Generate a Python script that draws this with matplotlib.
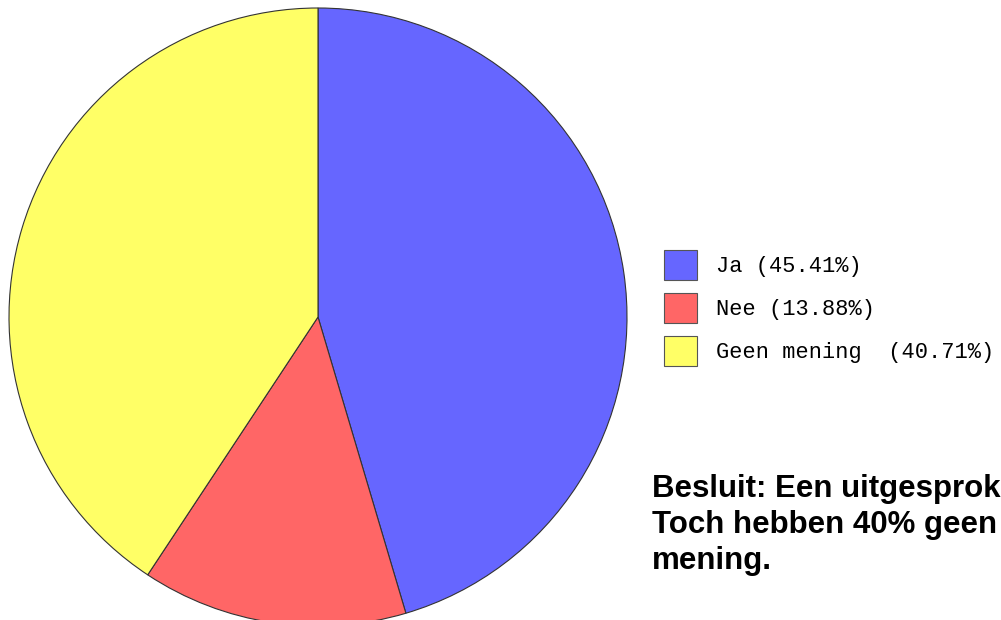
import matplotlib
matplotlib.use('Agg')
import matplotlib.pyplot as plt

labels = ['Ja', 'Nee', 'Geen mening']
shares = [45.41, 13.88, 40.71]
legend_labels = ['Ja (45.41%)', 'Nee (13.88%)', 'Geen mening  (40.71%)']
colors = ['#6666ff', '#ff6666', '#ffff66']
# the note runs off the right edge in the reference; only the visible part is kept
note_lines = ['Besluit: Een uitgesprok', 'Toch hebben 40% geen', 'mening.']

W, H = 1001, 620
fig = plt.figure(figsize=(W / 100, H / 100), dpi=100)
ax = fig.add_axes([0, 0, 1, 1])

wedges, _ = ax.pie(shares, colors=colors, startangle=90, counterclock=False,
                   center=(318, H - 317), radius=309,
                   wedgeprops=dict(edgecolor='#333333', linewidth=0.8))
ax.set_xlim(0, W)
ax.set_ylim(0, H)
ax.set_aspect('equal')
ax.axis('off')

fs = 15.8
leg = ax.legend(wedges, legend_labels, loc='upper left',
                bbox_to_anchor=(664 / W, 1 - 250 / H),
                frameon=False, borderpad=0, borderaxespad=0,
                handlelength=1.5, handleheight=1.75,
                handletextpad=0.85, labelspacing=0.58,
                prop=dict(family='Liberation Mono', size=fs))
for h in leg.legend_handles:
    h.set_edgecolor('#555555')
    h.set_linewidth(0.8)

for i, line in enumerate(note_lines):
    fig.text(652 / W, 1 - (497 + 36 * i) / H, line, ha='left', va='baseline',
             fontsize=22.5, fontweight='bold', family='Liberation Sans')

fig.savefig('out.png', dpi=100)
